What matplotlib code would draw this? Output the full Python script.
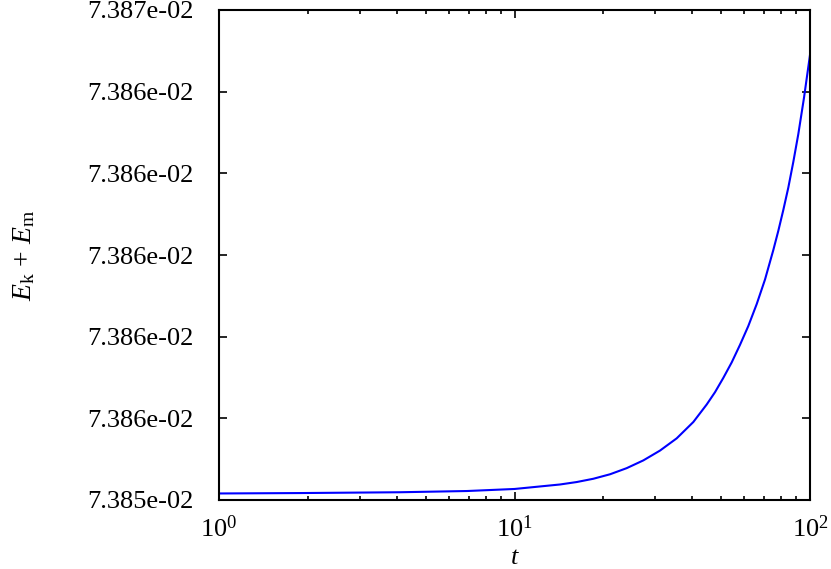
import matplotlib
matplotlib.use("Agg")
import matplotlib.pyplot as plt
import numpy as np
from matplotlib.ticker import FixedLocator, FuncFormatter, LogLocator

t = [1.0, 1.88, 4.10, 6.91, 10.0, 14.26, 16.24, 18.48, 21.05, 23.97, 27.29, 31.07,
     35.39, 40.29, 44.72, 47.70, 50.89, 54.33, 57.96, 61.83, 66.03, 70.43, 75.13,
     78.11, 81.21, 84.45, 87.81, 91.29, 95.43, 100.0]
energy = [0.07385416, 0.07385417, 0.07385419, 0.07385422, 0.07385427, 0.07385438,
          0.07385444, 0.07385452, 0.07385463, 0.07385478, 0.07385497, 0.07385521,
          0.07385551, 0.07385591, 0.07385634, 0.07385664, 0.07385699, 0.07385737,
          0.07385780, 0.07385826, 0.07385880, 0.07385940, 0.07386012, 0.07386059,
          0.07386110, 0.07386165, 0.07386228, 0.07386296, 0.07386385, 0.07386490]
y_ticks = [0.073854, 0.073856, 0.073858, 0.073860, 0.073862, 0.073864, 0.073866]

plt.rcParams['font.family'] = ['Liberation Serif', 'DejaVu Serif']
plt.rcParams['mathtext.fontset'] = 'custom'
plt.rcParams['mathtext.rm'] = 'Liberation Serif'
plt.rcParams['mathtext.it'] = 'Liberation Serif:italic'

fig = plt.figure(figsize=(8.31, 5.69), dpi=100)
ax = fig.add_axes([219/831, 1 - 500/569, (810-219)/831, (500-10)/569])
ax.plot(t, energy, color='#0000ff', lw=1.5)
ax.set_xscale('log')
ax.set_xlim(1, 100)
ax.set_ylim(y_ticks[0], y_ticks[-1])
ax.yaxis.set_major_locator(FixedLocator(y_ticks))
ax.yaxis.set_major_formatter(FuncFormatter(lambda v, p: '%.3e' % v))
ax.xaxis.set_major_locator(LogLocator(base=10))
ax.xaxis.set_minor_locator(LogLocator(base=10, subs=np.arange(2, 10)))
ax.xaxis.set_minor_formatter(FuncFormatter(lambda v, p: ''))
ax.tick_params(which='both', direction='in', top=True, right=True, labelsize=19, width=1.2)
ax.tick_params(which='major', length=6)
ax.tick_params(which='minor', length=3)
ax.tick_params(axis='y', which='major', pad=18)
ax.tick_params(axis='x', which='major', pad=11)
for s in ax.spines.values():
    s.set_linewidth(1.5)
ax.set_xlabel('$t$', fontsize=19, labelpad=4)
ax.set_ylabel('$E_\\mathrm{k}$ + $E_\\mathrm{m}$', fontsize=20, labelpad=36)
fig.savefig('out.png', dpi=100)
